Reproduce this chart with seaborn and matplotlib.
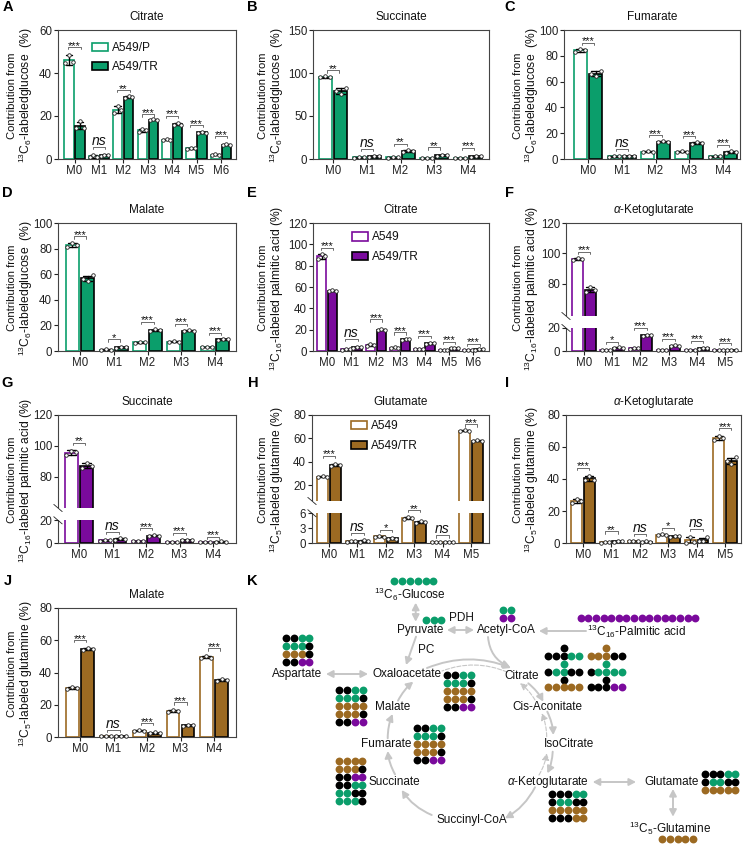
import numpy as np
import pandas as pd
import matplotlib
matplotlib.use("Agg")
import matplotlib.pyplot as plt
from matplotlib.patches import Patch, FancyArrowPatch, Rectangle
import seaborn as sns

sns.set_theme(style="ticks")
plt.rcParams.update({
    "font.family": ["Liberation Sans", "DejaVu Sans"],
    "mathtext.fontset": "custom",
    "mathtext.rm": "Liberation Sans",
    "mathtext.it": "Liberation Sans:italic",
    "mathtext.bf": "Liberation Sans:bold",
    "axes.linewidth": 0.8,
    "axes.edgecolor": "#444444",
    "text.color": "#111111",
    "xtick.color": "#222222",
    "ytick.color": "#222222",
    "axes.labelcolor": "#111111",
})

GREEN, PURPLE, BROWN = "#0B9E6B", "#7A0A9C", "#9C6A22"
M5 = ["M0", "M1", "M2", "M3", "M4"]
M6 = M5 + ["M5"]
M7 = M6 + ["M6"]

# ---- replicate values (left, middle, right point) ----
A_P = [[44.5,48.5,45],[0.8,2,0.8],[21.5,24.5,23],[12.5,14,13.5],[8.7,9.3,9],[4.5,5.3,5],[1.8,2.2,2]]
A_T = [[14.5,17.5,14.5],[1.5,2,1.8],[28.5,29.5,28.7],[18,18.5,18.3],[16,16.8,16],[12,12.7,12.3],[6.3,7,6.7]]
A_B = [52,5.6,32,20.7,20,15.7,10.6]
A_S = ["***","ns","**","***","***","***","***"]

B_P = [[95,96,95],[1.5,2,2],[1.5,2,2],[1,1.2,1],[1,1.3,1]]
B_T = [[79,76,82.5],[2.5,3,3.5],[8.5,10.5,9.5],[4,5,4.5],[2.8,3.5,3.3]]
B_B = [103,12,18,13.6,13]
B_S = ["**","ns","**","**","***"]

C_P = [[83,85,84.5],[1.8,2.5,2],[5.3,6,5.8],[5.5,6,5.8],[1.8,2.2,2]]
C_T = [[66,64,68],[2,2.5,2.2],[13,14,13.5],[12,13,12.3],[5,6,5.5]]
C_B = [90,8,18.4,17.6,11]
C_S = ["***","ns","***","***","***"]

D_P = [[81,84,82.5],[0.8,1.5,1],[6.3,7.2,6.8],[6.8,7.8,7.3],[2.8,3.4,3]]
D_T = [[56,55,59],[2.5,3.5,3],[15.8,16.8,16.2],[15.5,16.5,16],[8.5,9.5,9]]
D_B = [89.6,9,22.6,21.3,14.3]
D_S = ["***","*","***","***","***"]

E_P = [[86,91,89],[1,2,1.5],[5,7,6],[2.5,3.5,3],[2,2,2],[1,1.2,1],[1,1,1]]
E_T = [[56,57,56.5],[3,4,3.5],[19.5,20.5,20],[10.5,11.5,11],[7,7.5,7.2],[2.5,3.2,2.8],[1.2,1.8,1.5]]
E_B = [97,11,29.6,17.4,14,8.7,7]
E_S = ["***","ns","***","***","***","***","***"]

F_P = [[96,97,96.5],[0.8,1,0.9],[2,3,2.5],[0.8,1,0.9],[0.8,1,0.9],[0.5,0.7,0.6]]
F_T = [[75,78,76],[2.5,3.5,3],[13,14,13.5],[4,5,4.5],[2,3,2.5],[1,1.2,1.1]]
F_B = [101,8,20,10.6,8.8,6.8]
F_S = ["***","*","***","***","***","***"]

G_P = [[94,97,96],[2,3,2.5],[1.5,2,1.8],[1,1.3,1.1],[0.8,1,0.9]]
G_T = [[86,89,87],[3,4.5,3.7],[6,7,6.5],[2.5,3,2.8],[1,1.5,1.2]]
G_B = [102,9.5,13,9,5.6]
G_S = ["**","ns","***","***","***"]

H_P = [[26.7,27.5,27],[0.3,0.5,0.4],[1.2,1.5,1.3],[4.9,5.2,5],[0.2,0.2,0.2],[66,67,66.5]]
H_T = [[36,38,37],[0.3,0.6,0.4],[0.8,1.1,0.9],[4,4.4,4.2],[0.2,0.2,0.2],[57.5,58.5,58]]
H_B = [45,2,2.7,6.1,1.55,72]
H_S = ["***","ns","*","**","ns","***"]

I_P = [[25,27.5,26],[0.3,0.5,0.4],[1,1.5,1.2],[5,5.6,5.3],[0.3,4,0.8],[64.5,67,65.8]]
I_T = [[39.5,42,39.5],[0.8,1.4,1.1],[0.4,1,0.7],[3.8,4.6,4.2],[1,1.5,3.5],[51,49.5,53.5]]
I_B = [47,7.3,5.6,9.4,9,71.7]
I_S = ["***","**","ns","*","ns","***"]

J_P = [[30,31,30.5],[0.5,0.8,0.6],[3.7,4.2,3.9],[15.8,16.5,16],[49,50,49.3]]
J_T = [[54,55.3,54.5],[0.5,0.8,0.6],[2.2,2.8,2.4],[7,7.5,7.2],[35,36,35.5]]
J_B = [60,4.6,8.5,21.4,55]
J_S = ["***","ns","***","***","***"]

LAB_GLC = "$^{13}$C$_{6}$-labeledglucose  (%)"
LAB_PAL = "$^{13}$C$_{16}$-labeled palmitic acid (%)"
LAB_GLN = "$^{13}$C$_{5}$-labeled glutamine (%)"
AKG = r"$\mathit{\alpha}$-Ketoglutarate"

W, H = 745, 844
fig = plt.figure(figsize=(W / 100, H / 100), dpi=100, facecolor="white")
ov = fig.add_axes([0, 0, 1, 1], zorder=10, facecolor="none")
ov.set_xlim(0, W)
ov.set_ylim(H, 0)
ov.axis("off")


def panel(box, tick0, step, labels, p, t, br, st, title, ylabel, label_x, color,
          ymax, yticks, name1="A549", name2="A549/TR", legend=None, brk=None):
    l, r, top, bot = box
    ax = fig.add_axes([l / W, 1 - bot / H, (r - l) / W, (bot - top) / H])
    rows = []
    for i, lab in enumerate(labels):
        for v in p[i]:
            rows.append((lab, name1, v))
        for v in t[i]:
            rows.append((lab, name2, v))
    df = pd.DataFrame(rows, columns=["iso", "line", "value"])
    sns.barplot(data=df, x="iso", y="value", hue="line", order=labels,
                hue_order=[name1, name2], palette={name1: "white", name2: color},
                width=0.9, gap=0.155, errorbar="sd", capsize=0.55, saturation=1,
                err_kws={"color": "black", "linewidth": 1.0, "zorder": 4},
                legend=False, ax=ax)
    for container, edge in zip(ax.containers, [color, "black"]):
        for bar in container:
            bar.set_edgecolor(edge)
            bar.set_linewidth(1.2)
            bar.set_zorder(1)
    for i in range(len(labels)):
        for off, vals in ((-0.225, p[i]), (0.225, t[i])):
            ax.scatter(i + off + np.array([-0.15, 0, 0.15]), vals, s=6.5, c="white",
                       edgecolors="#222222", linewidths=0.6, zorder=5, clip_on=False)
    if brk is not None:
        vals, pix = brk
        xs = [-1000.0] + list(vals) + [1000.0]
        s0 = pix[1] / vals[1]
        s1 = (pix[-1] - pix[-2]) / (vals[-1] - vals[-2])
        ps = [-1000.0 * s0] + list(pix) + [pix[-1] + (1000.0 - vals[-1]) * s1]
        ax.set_yscale("function", functions=(lambda y: np.interp(y, xs, ps),
                                             lambda y: np.interp(y, ps, xs)))
        ax.axhspan(vals[1], vals[2], color="white", lw=0, zorder=2)
    ax.set_ylim(0, ymax)
    ax.set_yticks(yticks)
    ax.set_yticklabels([str(v) for v in yticks])
    ax.minorticks_off()
    ax.set_xlim((l - tick0) / step, (r - tick0) / step)
    ax.tick_params(length=3, width=0.8, pad=1.2, labelsize=8.3)
    ax.set_xlabel("")
    ax.set_ylabel("")
    for s in ax.spines.values():
        s.set_visible(True)
    ov.text((l + r) / 2, top - 13, title, ha="center", va="center", fontsize=8.5)
    ov.text(label_x - 7.5, (top + bot) / 2 + 1, "Contribution from", rotation=90,
            ha="center", va="center", fontsize=8.1)
    ov.text(label_x + 6, (top + bot) / 2 + 1, ylabel, rotation=90,
            ha="center", va="center", fontsize=8.7)
    half = 6.2
    for i, (b, s) in enumerate(zip(br, st)):
        dx, dy = ax.transData.transform((i, b))
        px, py = dx, H - dy
        ov.plot([px - half, px - half, px + half, px + half],
                [py + 2.2, py, py, py + 2.2], color="#555555", lw=0.6, zorder=5)
        if s == "ns":
            ov.text(px, py - 2, s, ha="center", va="baseline", fontsize=10, style="italic")
        else:
            ov.text(px, py + 1.5, s, ha="center", va="baseline", fontsize=7.9)
    if legend is not None:
        lx, ly = legend
        handles = [Patch(facecolor="white", edgecolor=color, linewidth=1.2, label=name1),
                   Patch(facecolor=color, edgecolor="black", linewidth=1.2, label=name2)]
        ax.legend(handles=handles, loc="upper left", frameon=False, fontsize=8.6,
                  bbox_to_anchor=((lx - l) / (r - l), (bot - ly) / (bot - top)),
                  borderpad=0, borderaxespad=0, handlelength=1.35, handleheight=0.7,
                  labelspacing=0.62, handletextpad=0.35)
    if brk is not None:
        vals, pix = brk
        y1 = bot - pix[1]
        y2 = bot - pix[2]
        ov.add_patch(Rectangle((l - 1.5, y2), 3, y1 - y2, fc="white", ec="none", zorder=1))
        for y in (y1, y2):
            ov.plot([l - 4.2, l + 4.2], [y - 3.6, y + 3.6], color="#222222", lw=0.6, zorder=2)
    return ax


X1, X2, X3 = 20, 271, 525.5
panel((58, 236, 30, 159), 74.5, 24.4, M7, A_P, A_T, A_B, A_S, "Citrate", LAB_GLC, X1, GREEN,
      60, [0, 20, 40, 60], "A549/P", "A549/TR", legend=(92, 42))
panel((313, 489, 30, 159), 333, 33.75, M5, B_P, B_T, B_B, B_S, "Succinate", LAB_GLC, X2, GREEN,
      150, [0, 50, 100, 150])
panel((564, 740, 30, 159), 588, 33.75, M5, C_P, C_T, C_B, C_S, "Fumarate", LAB_GLC, X3, GREEN,
      100, [0, 20, 40, 60, 80, 100])
panel((58, 236, 223, 351), 80, 33.75, M5, D_P, D_T, D_B, D_S, "Malate", LAB_GLC, X1, GREEN,
      100, [0, 20, 40, 60, 80, 100])
panel((313, 489, 223, 351), 327, 24.4, M7, E_P, E_T, E_B, E_S, "Citrate", LAB_PAL, X2, PURPLE,
      120, [0, 20, 40, 60, 80, 100, 120], legend=(352, 231.5))
panel((566, 741, 223, 351), 584, 28.2, M6, F_P, F_T, F_B, F_S, AKG, LAB_PAL, X3, PURPLE,
      120, [0, 20, 80, 100, 120], brk=((0, 20, 59, 120), (0, 23, 35, 128)))
panel((58, 236, 415, 543), 79, 33.5, M5, G_P, G_T, G_B, G_S, "Succinate", LAB_PAL, X1, PURPLE,
      120, [0, 20, 80, 100, 120], brk=((0, 20, 60, 120), (0, 22.7, 35, 128)))
panel((312, 489, 415, 543), 329, 28.4, M6, H_P, H_T, H_B, H_S, "Glutamate", LAB_GLN, X2, BROWN,
      80, [0, 3, 6, 20, 40, 60, 80], legend=(351, 420.5), brk=((0, 6, 6.4, 80), (0, 29.7, 42, 128)))
panel((566, 741, 415, 543), 583, 28.4, M6, I_P, I_T, I_B, I_S, AKG, LAB_GLN, X3, BROWN,
      80, [0, 20, 40, 60, 80])
panel((58, 236, 608, 737), 80, 33.5, M5, J_P, J_T, J_B, J_S, "Malate", LAB_GLN, X1, BROWN,
      80, [0, 20, 40, 60, 80])

# panel letters
for s, x, y in [("A", 8, 7), ("B", 252, 7), ("C", 510, 7), ("D", 7, 193), ("E", 252, 193),
                ("F", 510, 193), ("G", 7, 383), ("H", 253, 383), ("I", 507, 383),
                ("J", 8, 581), ("K", 252, 581)]:
    ov.text(x, y, s, ha="center", va="center", fontsize=10.5, fontweight="bold", color="black")

# ---- panel K: pathway ----
CMAP = {"K": "black", "G": GREEN, "B": BROWN, "P": PURPLE}
GRID_5R = ["KKGG", "GGGK", "BBBB", "BBBK", "KKPP"]
GRIDS = [
    (394.3, 581, 7.8, 8.0, ["GGGGGG"]),
    (426, 620, 7.6, 8.0, ["GGG"]),
    (502.7, 610, 8.0, 8.0, ["GG", "PP"]),
    (580.7, 618, 7.63, 8.0, ["P" * 16]),
    (286, 638, 7.8, 8.0, ["KKGG", "GGGK", "BBBK", "KKPP"]),
    (447.3, 675, 7.8, 8.0, GRID_5R),
    (339.3, 690, 7.8, 8.1, GRID_5R),
    (416.7, 728, 8.0, 8.1, GRID_5R),
    (339, 761, 7.8, 8.0, ["BBBB", "BBBK", "KKPP", "KKGG", "GGKK", "GGGK"]),
    (548, 648.3, 7.8, 7.8, ["  K  ", "KKKGG", "  G  ", "KGGKK", "  K  ", "BBBBB"]),
    (590.7, 648.3, 7.75, 7.8, ["  B  ", "BBBKK", "  G  ", "KGGGG", "  K  ", "KKKPP"]),
    (552.3, 794, 7.75, 8.0, ["KKKGG", "KGGKK", "BBBBB", "KKKBB"]),
    (705, 773.7, 7.6, 8.1, ["KKKGG", "KGGKK", "BBBBB"]),
    (662.3, 839, 7.7, 8.0, ["BBBBB"]),
]
for x0, y0, dx, dy, rows_ in GRIDS:
    for r_i, row in enumerate(rows_):
        for c_i, ch in enumerate(row):
            if ch != " ":
                ov.scatter(x0 + c_i * dx, y0 + r_i * dy, s=32, color=CMAP[ch], lw=0, zorder=6)

K_TEXT = [
    ("$^{13}$C$_{6}$-Glucose", 409.7, 594), ("Pyruvate", 420, 630), ("PDH", 461, 618),
    ("Acetyl-CoA", 506, 630.5), ("$^{13}$C$_{16}$-Palmitic acid", 636, 631), ("PC", 426, 650),
    ("Aspartate", 296.7, 674), ("Oxaloacetate", 407, 674), ("Citrate", 522, 676),
    ("Cis-Aconitate", 547.7, 706.7), ("IsoCitrate", 568.7, 743.7), (AKG, 547.7, 781.7),
    ("Glutamate", 672, 781.7), ("$^{13}$C$_{5}$-Glutamine", 670, 828),
    ("Succinyl-CoA", 471.7, 820), ("Succinate", 394.7, 781.7), ("Fumarate", 386, 743.7),
    ("Malate", 392.7, 706.7),
]
for s, x, y in K_TEXT:
    ov.text(x, y, s, ha="center", va="center", fontsize=8.5, zorder=7)

GREY = "#C6C6C6"
ARROWS = [  # x0, y0, x1, y1, style, rad, dashed
    (415.7, 602.7, 415.7, 621.7, "<|-|>", 0, False),
    (447, 630, 474, 630, "<|-|>", 0, False),
    (586, 631, 539, 631, "-|>", 0, False),
    (416, 636.7, 406, 665, "-|>", 0, False),
    (326, 674, 368, 674, "<|-|>", 0, False),
    (636, 782, 592.7, 782, "<|-|>", 0, False),
    (673, 789, 673, 816.7, "<|-|>", 0, False),
    (488, 637, 510, 667, "-|>", 0.3, False),
    (427, 668, 511, 668, "-|>", -0.2, False),
    (528.3, 683.3, 543.3, 701.7, "-|>", -0.1, False),
    (547.3, 711.7, 553.3, 735, "-|>", -0.1, False),
    (552.7, 751.7, 547.3, 773.3, "-|>", -0.1, False),
    (535, 787.3, 505, 818.3, "-|>", -0.15, False),
    (431.7, 815, 401.7, 790, "-|>", -0.15, False),
    (395, 774.3, 387.7, 751, "-|>", -0.1, False),
    (387.7, 738.3, 392.7, 714, "-|>", -0.1, False),
    (398, 700.7, 413.3, 681.7, "-|>", -0.1, False),
    (535, 700, 520, 683.3, "-|>", 0.1, True),
    (546.7, 736.7, 541.7, 713.3, "-|>", 0.1, True),
    (539, 775, 546.7, 753.3, "-|>", 0.1, True),
    (507, 672, 442, 671, "-", 0.2, True),
]
for x0, y0, x1, y1, st_, rad, dashed in ARROWS:
    style = st_ if st_ == "-" else st_ + ",head_length=4,head_width=2.1"
    ov.add_patch(FancyArrowPatch((x0, y0), (x1, y1), arrowstyle=style,
                                 connectionstyle=f"arc3,rad={rad}", shrinkA=0, shrinkB=0,
                                 mutation_scale=1, color=GREY, lw=0.8 if dashed else 1.4,
                                 linestyle="--" if dashed else "-", zorder=4))

fig.savefig("out.png", dpi=100, facecolor="white")
